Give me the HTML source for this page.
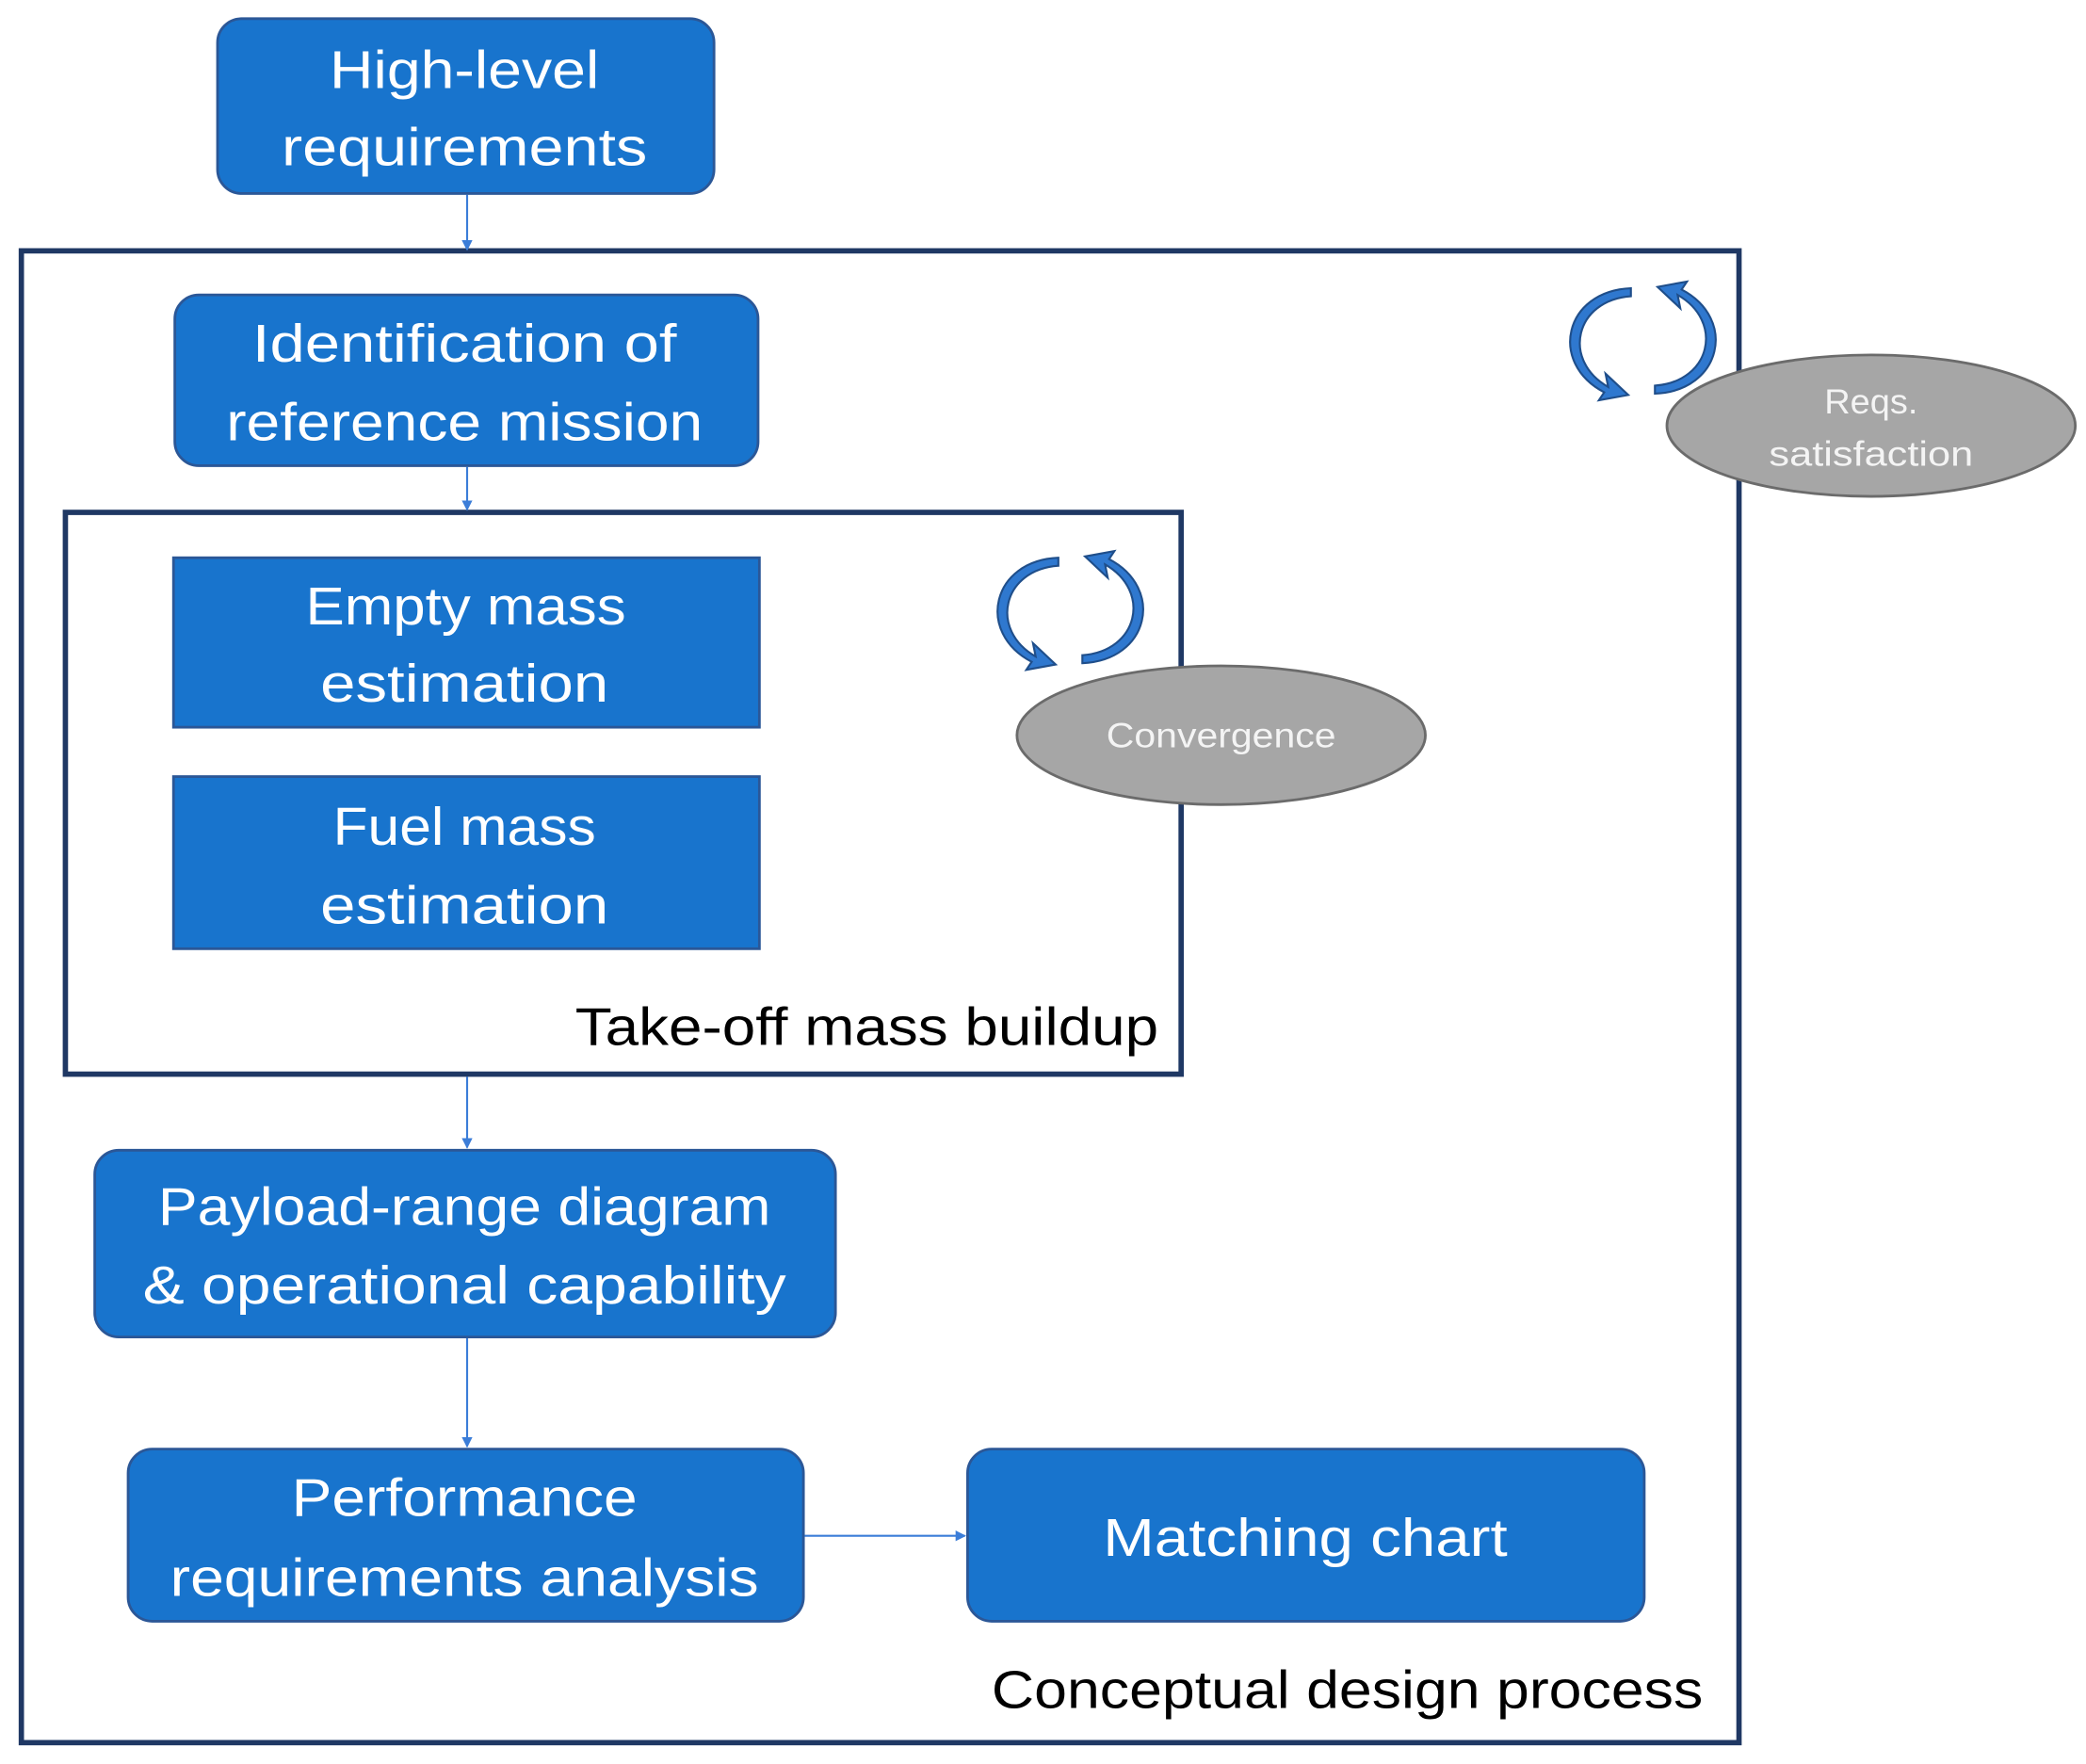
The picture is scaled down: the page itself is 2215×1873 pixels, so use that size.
<!DOCTYPE html>
<html><head><meta charset="utf-8"><style>html,body{margin:0;padding:0;background:#fff}svg{display:block}</style></head>
<body>
<svg width="2215" height="1873" viewBox="0 0 1563 1322" preserveAspectRatio="none" xmlns="http://www.w3.org/2000/svg" font-family="Liberation Sans, sans-serif">
<defs>
<marker id="ah" markerWidth="8" markerHeight="8" refX="7" refY="4" orient="auto" markerUnits="userSpaceOnUse"><path d="M0,0 L8,4 L0,8 z" fill="#3b7dd8"/></marker>
</defs>
<rect width="1563" height="1322" fill="#fff"/>
<!-- outer boxes -->
<rect x="16" y="188" width="1287" height="1118" fill="none" stroke="#1f3864" stroke-width="4"/>
<rect x="49" y="384" width="836" height="421" fill="none" stroke="#1f3864" stroke-width="4"/>
<!-- connectors -->
<g stroke="#3b7dd8" stroke-width="1.5" fill="none">
<line x1="350" y1="146" x2="350" y2="187" marker-end="url(#ah)"/>
<line x1="350" y1="350" x2="350" y2="382" marker-end="url(#ah)"/>
<line x1="350" y1="807" x2="350" y2="860" marker-end="url(#ah)"/>
<line x1="350" y1="1003" x2="350" y2="1084" marker-end="url(#ah)"/>
<line x1="603" y1="1151" x2="723" y2="1151" marker-end="url(#ah)"/>
</g>
<!-- boxes -->
<g fill="#1874cd" stroke="#2b5797" stroke-width="2">
<rect x="163" y="14" width="372" height="131" rx="18"/>
<rect x="131" y="221" width="437" height="128" rx="18"/>
<rect x="130" y="418" width="439" height="127"/>
<rect x="130" y="582" width="439" height="129"/>
<rect x="71" y="862" width="555" height="140" rx="18"/>
<rect x="96" y="1086" width="506" height="129" rx="18"/>
<rect x="725" y="1086" width="507" height="129" rx="18"/>
</g>
<g fill="#fff" font-size="40" text-anchor="middle" lengthAdjust="spacingAndGlyphs">
<text x="348" y="66" textLength="202" lengthAdjust="spacingAndGlyphs">High-level</text>
<text x="348" y="124" textLength="274" lengthAdjust="spacingAndGlyphs">requirements</text>
<text x="348" y="271" textLength="318" lengthAdjust="spacingAndGlyphs">Identification of</text>
<text x="348" y="330" textLength="357" lengthAdjust="spacingAndGlyphs">reference mission</text>
<text x="349" y="468" textLength="240" lengthAdjust="spacingAndGlyphs">Empty mass</text>
<text x="348" y="526" textLength="216" lengthAdjust="spacingAndGlyphs">estimation</text>
<text x="348" y="633" textLength="197" lengthAdjust="spacingAndGlyphs">Fuel mass</text>
<text x="348" y="692" textLength="216" lengthAdjust="spacingAndGlyphs">estimation</text>
<text x="348" y="918" textLength="459" lengthAdjust="spacingAndGlyphs">Payload-range diagram</text>
<text x="348" y="977" textLength="482" lengthAdjust="spacingAndGlyphs">&amp; operational capability</text>
<text x="348" y="1136" textLength="259" lengthAdjust="spacingAndGlyphs">Performance</text>
<text x="348" y="1196" textLength="441" lengthAdjust="spacingAndGlyphs">requirements analysis</text>
<text x="978" y="1166" textLength="303" lengthAdjust="spacingAndGlyphs">Matching chart</text>
</g>
<g fill="#000" font-size="40" text-anchor="end">
<text x="868" y="783" textLength="437" lengthAdjust="spacingAndGlyphs">Take-off mass buildup</text>
<text x="1276" y="1280" textLength="533" lengthAdjust="spacingAndGlyphs">Conceptual design process</text>
</g>
<!-- ellipses -->
<ellipse cx="1402" cy="319" rx="153" ry="53" fill="#a6a6a6" stroke="#6b6b6b" stroke-width="2"/>
<ellipse cx="915" cy="551" rx="153" ry="52" fill="#a6a6a6" stroke="#6b6b6b" stroke-width="2"/>
<g fill="#f4f4f4" font-size="26" text-anchor="middle">
<text x="1402" y="310" textLength="70" lengthAdjust="spacingAndGlyphs">Reqs.</text>
<text x="1402" y="349" textLength="153" lengthAdjust="spacingAndGlyphs">satisfaction</text>
<text x="915" y="560" textLength="172" lengthAdjust="spacingAndGlyphs">Convergence</text>
</g>
<!-- cycle icons -->
<g id="cyc" fill="#2f78cf" stroke="#1f4e8a" stroke-width="1.5">
<path d="M1222,222 C1180,225 1170,270 1205,290 L1203,280 L1220,296 L1198,300 L1202,294 C1160,272 1172,218 1222,216 z"/>
<path d="M1240,289 C1282,286 1292,241 1257,221 L1259,231 L1242,215 L1264,211 L1260,217 C1302,239 1290,293 1240,295 z"/>
</g>
<use href="#cyc" transform="translate(-429,202)"/>
</svg>
</body></html>
